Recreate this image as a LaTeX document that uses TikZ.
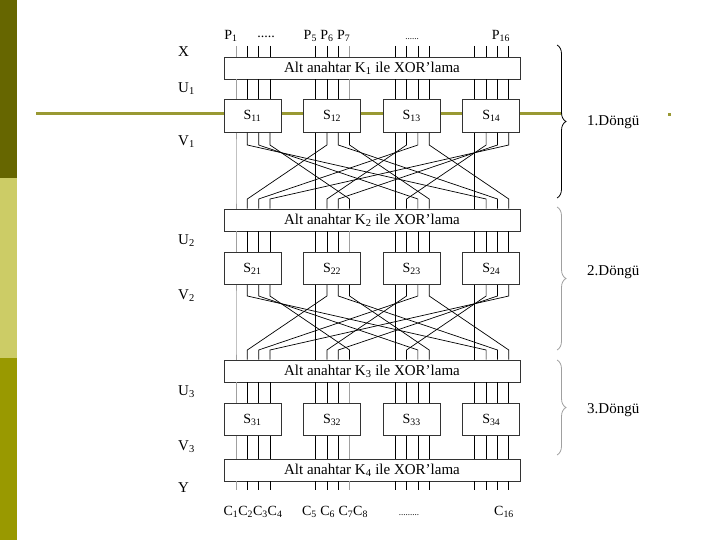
\documentclass[tikz,border=0pt]{standalone}
\usepackage{fontspec}
\setmainfont{Liberation Serif}
\usetikzlibrary{decorations.pathreplacing}
\definecolor{olivedark}{HTML}{666600}
\definecolor{olivelight}{HTML}{CCCC66}
\definecolor{olivemid}{HTML}{999900}
\definecolor{oliveline}{HTML}{999933}
\definecolor{wiregray}{HTML}{A0A0A0}
\tikzset{
  xorbox/.style={draw=black!80, fill=white, line width=0.8pt, minimum width=296pt,
    minimum height=22pt, inner sep=0pt, font=\fontsize{15}{18}\selectfont},
  sbox/.style={draw=black!80, fill=white, line width=0.8pt, minimum width=57pt,
    minimum height=32.5pt, inner sep=0pt, font=\fontsize{14}{17}\selectfont},
  wire/.style={line width=0.7pt},
  lbl/.style={inner sep=0pt, font=\fontsize{15}{18}\selectfont},
  io/.style={inner sep=0pt, font=\fontsize{14}{17}\selectfont},
  dots/.style={inner sep=0pt, font=\fontsize{9}{11}\selectfont},
  brc/.style={decorate, decoration={brace, amplitude=9pt}, line width=0.8pt},
}
\begin{document}
\begin{tikzpicture}[x=1pt, y=-1pt]
    \useasboundingbox (0,0) rectangle (720,540);
    % side strip
    \fill[olivedark] (0,0) rectangle (17,178);
    \fill[olivelight] (0,178) rectangle (17,358);
    \fill[olivemid] (0,358) rectangle (17,540);
    % olive rule
    \draw[oliveline, line width=3pt] (36,114) -- (562,114);
    \fill[oliveline] (667.5,113) rectangle (670.5,116);

    % key mixing boxes
    \foreach \r/\y in {1/68,2/220,3/371,4/470}
      \node[xorbox] (x\r) at (372,\y) {Alt anahtar K\textsubscript{\r} ile XOR’lama};

    % S-boxes
    \foreach \r/\y in {1/116,2/268.5,3/419.5}
      \foreach \j in {1,...,4}
        \node[sbox] (s\r\j) at ({252.5+79.6*(\j-1)},\y) {S\textsubscript{\r\j}};

    % straight wires
    \foreach \j in {1,...,4}
      \foreach \i in {0,...,3} {
        \pgfmathsetmacro\wx{236+79.6*(\j-1)+11.33*\i}
        \pgfmathtruncatemacro\pos{4*(\j-1)+\i}
        \ifnum\pos=0 \def\wc{wiregray}\else\ifnum\pos=7 \def\wc{wiregray}\else\def\wc{black}\fi\fi
        \coordinate (in\pos) at (\wx,46);
        \coordinate (out\pos) at (\wx,490);
        \draw[wire,\wc] (in\pos) -- (\wx,0 |- x1.north);
        \draw[wire,\wc] (\wx,0 |- x1.south) -- (\wx,0 |- s1\j.north);
        \draw[wire,\wc] (\wx,0 |- x2.south) -- (\wx,0 |- s2\j.north);
        \draw[wire,\wc] (\wx,0 |- x3.south) -- (\wx,0 |- s3\j.north);
        \draw[wire,\wc] (\wx,0 |- s3\j.south) -- (\wx,0 |- x4.north);
        \draw[wire,\wc] (\wx,0 |- x4.south) -- (out\pos);
      }

    % permutation layers
    \foreach \r/\n/\ya/\yb in {1/2/145/199,2/3/296/350}
      \foreach \j in {1,...,4}
        \foreach \i in {0,...,3} {
          \pgfmathtruncatemacro\k{mod(\j-1-\i+4,4)+1}
          \pgfmathsetmacro\wx{236+79.6*(\j-1)+11.33*\i}
          \pgfmathsetmacro\tx{236+79.6*(\k-1)+11.33*\i}
          \pgfmathtruncatemacro\pos{4*(\j-1)+\i}
          \ifnum\pos=0 \def\wc{wiregray}\else\def\wc{black}\fi
          \draw[wire,\wc] (\wx,0 |- s\r\j.south) -- (\wx,\ya) -- (\tx,\yb) -- (\tx,0 |- x\n.north);
        }

    % plaintext and ciphertext bits
    \node[io] (p1) at (231,36) {P\textsubscript{1}};
    \node[io] (pd1) at (266,37) {.....};
    \node[io] (p5) at (327,36) {P\textsubscript{5} P\textsubscript{6} P\textsubscript{7}};
    \node[dots] (pd2) at (412,39) {......};
    \node[io] (p16) at (501,36) {P\textsubscript{16}};
    \node[io] (c1) at (253,512) {C\textsubscript{1}C\textsubscript{2}C\textsubscript{3}C\textsubscript{4}};
    \node[io] (c5) at (335,512) {C\textsubscript{5} C\textsubscript{6} C\textsubscript{7}C\textsubscript{8}};
    \node[dots] (cd) at (409,515) {.........};
    \node[io] (c16) at (504,512) {C\textsubscript{16}};

    % state labels
    \foreach \t/\y in {X/52,U\textsubscript{1}/89,V\textsubscript{1}/142,U\textsubscript{2}/241,
        V\textsubscript{2}/296,U\textsubscript{3}/392,V\textsubscript{3}/447,Y/488}
      \node[lbl, anchor=west] (st\y) at (178,\y) {\t};

    % rounds
    \draw[brc] (557,45) -- (557,198);
    \draw[brc, wiregray] (557,207) -- (557,350);
    \draw[brc, wiregray] (557,360) -- (557,455);
    \node[lbl, anchor=west] (d1) at (587,122) {1.Döngü};
    \node[lbl, anchor=west] (d2) at (587,272) {2.Döngü};
    \node[lbl, anchor=west] (d3) at (587,410) {3.Döngü};
\end{tikzpicture}
\end{document}
